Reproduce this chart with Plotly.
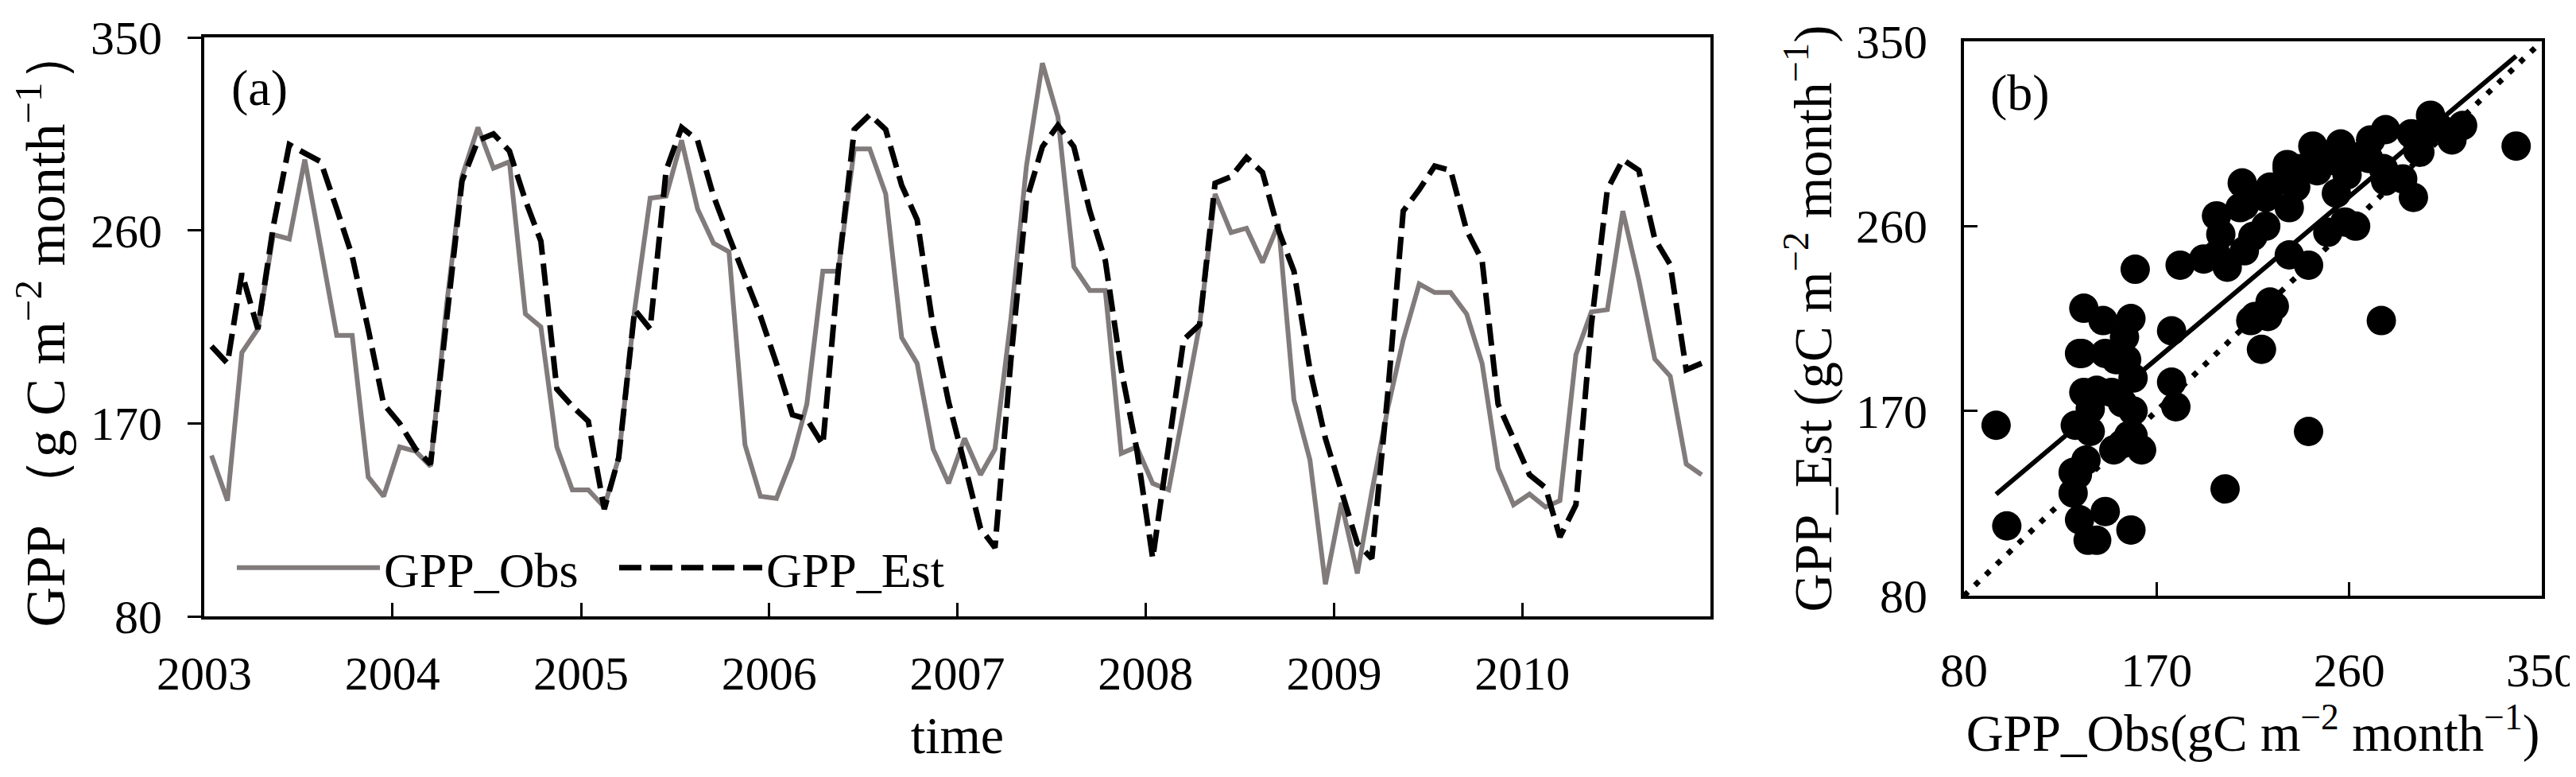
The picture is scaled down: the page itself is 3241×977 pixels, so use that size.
import numpy as np
import plotly.graph_objects as go

# monthly GPP, Jan 2003 - Dec 2010 (g C m-2 month-1)
gpp_obs = [155, 134, 203, 214, 258, 256, 293, 252, 211, 211, 145, 136,
           159, 157, 150, 225, 285, 308, 289, 292, 221, 215, 159, 139,
           139, 131, 154, 223, 275, 276, 302, 270, 254, 250, 160, 136,
           135, 154, 179, 241, 241, 298, 298, 277, 210, 198, 158, 142,
           163, 146, 158, 219, 290, 338, 313, 243, 232, 232, 156, 159,
           142, 139, 177, 216, 277, 259, 261, 245, 263, 181, 153, 95,
           133, 100, 138, 177, 209, 235, 231, 231, 221, 198, 149, 132,
           137, 131, 134, 202, 222, 223, 269, 237, 200, 192, 151, 146]

gpp_est = [206, 198, 240, 214, 262, 300, 296, 292, 270, 248, 214, 179,
           170, 158, 151, 221, 283, 302, 305, 297, 274, 255, 186, 178,
           171, 130, 154, 223, 214, 288, 308, 302, 276, 257, 239, 220,
           198, 174, 172, 160, 241, 307, 314, 307, 281, 265, 215, 180,
           151, 121, 112, 200, 274, 299, 309, 299, 269, 246, 195, 158,
           107, 160, 209, 216, 282, 285, 294, 287, 260, 241, 195, 163,
           139, 114, 107, 184, 269, 279, 290, 288, 260, 246, 179, 163,
           146, 140, 117, 132, 216, 279, 293, 288, 256, 244, 195, 198]

years = list(range(2003, 2011))
months = [f"{2003 + i // 12}-{i % 12 + 1:02d}-15" for i in range(len(gpp_obs))]
gpp_ticks = [80, 170, 260, 350]

FONT = "Liberation Serif"
GRAY = "#827b7b"
UNIT = "m<sup>−2</sup> month<sup>−1</sup>"

fig = go.Figure()

# (a) time series
fig.add_trace(go.Scatter(x=months, y=gpp_obs, mode="lines", name="GPP_Obs",
                         line=dict(color=GRAY, width=6), xaxis="x", yaxis="y"))
fig.add_trace(go.Scatter(x=months, y=gpp_est, mode="lines", name="GPP_Est",
                         line=dict(color="black", width=7, dash="28px,11px"),
                         xaxis="x", yaxis="y"))

# (b) scatter with fitted line and 1:1 line
obs = np.array(gpp_obs, dtype=float)
est = np.array(gpp_est, dtype=float)
slope, intercept = np.polyfit(obs, est, 1)
fit_x = np.array([obs.min(), obs.max()])

fig.add_trace(go.Scatter(x=gpp_obs, y=gpp_est, mode="markers", showlegend=False,
                         marker=dict(color="black", size=37), xaxis="x2", yaxis="y2"))
fig.add_trace(go.Scatter(x=fit_x, y=slope * fit_x + intercept, mode="lines",
                         showlegend=False, line=dict(color="black", width=6),
                         xaxis="x2", yaxis="y2"))
fig.add_trace(go.Scatter(x=[gpp_ticks[0], gpp_ticks[-1]], y=[gpp_ticks[0], gpp_ticks[-1]],
                         mode="lines", showlegend=False,
                         line=dict(color="black", width=7, dash="7px,12px"),
                         xaxis="x2", yaxis="y2"))

W, H = 3241, 977
axis_common = dict(showline=True, linecolor="black", linewidth=4, mirror=True,
                   showgrid=False, zeroline=False, ticklen=17, tickwidth=3,
                   tickcolor="black", tickfont=dict(family=FONT, size=60, color="black"),
                   automargin=False)

fig.update_layout(
    width=W, height=H,
    margin=dict(l=0, r=0, t=0, b=0),
    paper_bgcolor="white", plot_bgcolor="white",
    font=dict(family=FONT, color="black"),
    xaxis=dict(domain=[249 / W, 2144 / W], anchor="y",
               range=["2003-01-01", "2011-01-01"], type="date",
               tickvals=[f"{y}-01-01" for y in years], ticktext=[str(y) for y in years],
               ticks="inside", ticklabelstandoff=16,
               title=dict(text="time", font=dict(family=FONT, size=66), standoff=23),
               **axis_common),
    yaxis=dict(domain=[1 - 767 / H, 1 - 39 / H], anchor="x",
               range=[80, 350], tickvals=gpp_ticks, ticks="outside",
               ticklabelstandoff=20,
               title=dict(text="GPP （g C " + UNIT + "）",
                          font=dict(family=FONT, size=70), standoff=14),
               **axis_common),
    xaxis2=dict(domain=[2463 / W, 3190 / W], anchor="y2",
                range=[80, 350], tickvals=gpp_ticks, ticks="inside",
                ticklabelstandoff=38,
                title=dict(text="GPP_Obs(gC " + UNIT + ")",
                           font=dict(family=FONT, size=65), standoff=0),
                **axis_common),
    yaxis2=dict(domain=[1 - 741 / H, 1 - 44 / H], anchor="x2",
                range=[80, 350], tickvals=gpp_ticks, ticks="inside",
                ticklabelstandoff=30,
                title=dict(text="GPP_Est (gC " + UNIT + ")",
                           font=dict(family=FONT, size=67), standoff=10),
                **axis_common),
    legend=dict(orientation="h", x=285 / W, y=1 - 706 / H, xanchor="left", yanchor="middle",
                bgcolor="rgba(0,0,0,0)", font=dict(family=FONT, size=62), itemwidth=180,
                entrywidth=286, entrywidthmode="pixels"),
    annotations=[
        dict(text="(a)", x=281 / W, y=1 - 103 / H, xref="paper", yref="paper",
             xanchor="left", yanchor="middle", showarrow=False,
             font=dict(family=FONT, size=64)),
        dict(text="(b)", x=2494 / W, y=1 - 109 / H, xref="paper", yref="paper",
             xanchor="left", yanchor="middle", showarrow=False,
             font=dict(family=FONT, size=64)),
    ],
)

fig.write_html("out.html")
